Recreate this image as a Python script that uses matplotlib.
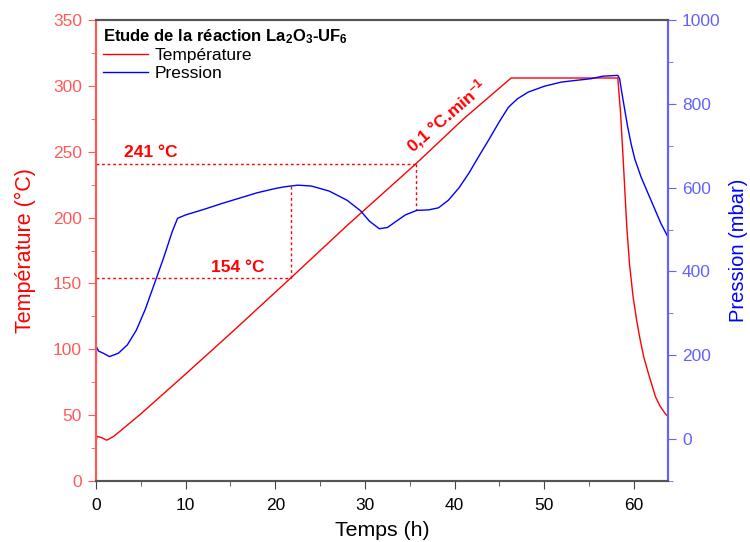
import numpy as np
import matplotlib.pyplot as plt
from matplotlib.ticker import MultipleLocator

plt.rcParams['font.family'] = ['Liberation Sans', 'DejaVu Sans']
plt.rcParams['mathtext.default'] = 'regular'

# temperature (degC) vs time (h)
temp_t = [0, 0.1, 0.6, 1.2, 2, 5, 9.3, 15, 21.7, 28, 35.7, 41, 46.3,
          58.2, 58.5, 58.8, 59.2, 59.5, 59.9, 60.3, 60.7, 61.1, 61.6,
          62.0, 62.4, 62.9, 63.5, 63.8]
temp_v = [29, 34, 33, 31, 34, 51, 77, 112, 154, 194, 241, 275, 306,
          306, 280, 244, 193, 165, 140, 122, 107, 94, 82,
          73, 64, 57, 51, 49]

# pressure (mbar) vs time (h)
pres_t = [0, 0.05, 0.3, 0.8, 1.5, 2.5, 3.5, 4.5, 5.5, 6.5, 7.5, 8.5, 9.1,
          10, 12, 14, 16, 18, 20, 21, 22.5, 24, 26, 28, 29.5, 30.5, 31.6,
          32.5, 33.5, 34.5, 35.8, 37.1, 38.2, 39.3, 40.5, 41.6, 42.7, 43.8,
          45, 46, 47, 48.2, 50, 51.9, 53.5, 55.2, 56.5, 58.2, 58.4, 58.6,
          58.9, 59.3, 59.7, 60.1, 60.8, 61.6, 62.3, 63, 63.8]
pres_v = [57, 220, 210, 205, 197, 205, 225, 260, 310, 370, 430, 495, 527,
          535, 548, 562, 575, 588, 598, 602, 606, 604, 592, 570, 545, 520, 502,
          505, 520, 535, 546, 547, 552, 570, 600, 635, 675, 714,
          758, 792, 812, 828, 842, 852, 856, 860, 866, 868, 860, 833,
          795, 745, 703, 668, 625, 585, 550, 515, 482]

t154, t241 = 21.7, 35.7
p_at_154 = 225   # top of vertical dotted line, in degC units
p_at_241 = 206

red = '#ff0000'
blue = '#0000ff'
red_ax = '#ff5a5a'
blue_ax = '#6262ff'

fig = plt.figure(figsize=(7.5, 5.42), dpi=100)
ax1 = fig.add_axes([0.128, 0.1125, 0.7627, 0.8505])
ax2 = ax1.twinx()

l1, = ax1.plot(temp_t, temp_v, color=red, lw=1, label='Température')
l2, = ax2.plot(pres_t, pres_v, color=blue, lw=1, label='Pression')

# dotted guide lines
ax1.plot([0, t241], [241, 241], ls=(0, (2, 2)), color=red, lw=1)
ax1.plot([t241, t241], [241, p_at_241], ls=(0, (2, 2)), color=red, lw=1)
ax1.plot([0, t154], [154, 154], ls=(0, (2, 2)), color=red, lw=1)
ax1.plot([t154, t154], [154, p_at_154], ls=(0, (2, 2)), color=red, lw=1)

ax1.text(3.1, 246, '241 °C', color=red, fontsize=12.5, fontweight='bold')
ax1.text(12.8, 159, '154 °C', color=red, fontsize=12.5, fontweight='bold')
ax1.text(35.3, 249, '0,1 °C.min$^{-1}$', color=red, fontsize=12.5, fontweight='bold',
         rotation=41, rotation_mode='anchor')

ax1.set_xlim(0, 63.8)
ax1.set_ylim(0, 350)
ax2.set_ylim(-100, 1000)

ax1.xaxis.set_major_locator(MultipleLocator(10))
ax1.xaxis.set_minor_locator(MultipleLocator(5))
ax1.yaxis.set_major_locator(MultipleLocator(50))
ax1.yaxis.set_minor_locator(MultipleLocator(25))
ax2.yaxis.set_major_locator(MultipleLocator(200))
ax2.yaxis.set_minor_locator(MultipleLocator(100))

for ax in (ax1, ax2):
    ax.tick_params(which='both', direction='out')
    ax.tick_params(which='major', length=6, pad=4, labelsize=12.5)
    ax.tick_params(which='minor', length=3.6)

ax1.tick_params(axis='y', which='both', colors=red_ax, labelcolor=red_ax)
ax2.tick_params(axis='y', which='both', colors=blue_ax, labelcolor=blue_ax)
ax1.tick_params(axis='x', which='both', colors='#444444', labelcolor='black', pad=6)

for ax in (ax1, ax2):
    ax.spines['left'].set_color(red_ax)
    ax.spines['right'].set_color(blue_ax)
    ax.spines['top'].set_color('#555555')
    ax.spines['bottom'].set_color('#555555')
    for s in ax.spines.values():
        s.set_linewidth(1.5)

ax1.set_xlabel('Temps (h)', fontsize=15.3, labelpad=6)
ax1.set_ylabel('Température (°C)', fontsize=15.5, color=red, labelpad=12)
ax2.set_ylabel('Pression (mbar)', fontsize=14.5, color=blue, labelpad=6)

leg = ax2.legend(handles=[l1, l2], loc='upper left', frameon=False,
                 title='Etude de la réaction La$_2$O$_3$-UF$_6$',
                 title_fontproperties={'weight': 'bold', 'size': 12},
                 fontsize=12.5, handlelength=2.6, handletextpad=0.4,
                 borderaxespad=0.1, borderpad=0.3, labelspacing=0.15,
                 alignment='left')

fig.savefig('out.png', dpi=100)
